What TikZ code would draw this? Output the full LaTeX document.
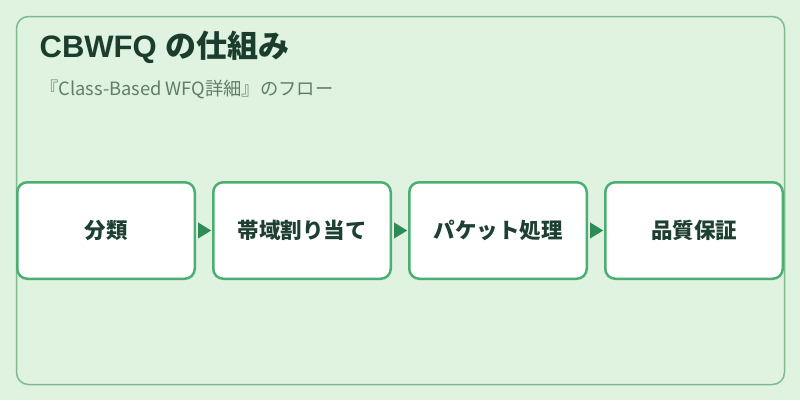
\documentclass[tikz,border=0pt]{standalone}
\usepackage{fontspec}
\setmainfont{Noto Sans CJK JP}
\newfontfamily\latinsans{Liberation Sans}
\usetikzlibrary{arrows.meta}
\definecolor{bgc}{HTML}{E0F2E0}
\definecolor{framec}{HTML}{7DBB91}
\definecolor{boxc}{HTML}{4CAF72}
\definecolor{arrc}{HTML}{2E8B57}
\definecolor{titlec}{HTML}{1B3D2E}
\definecolor{subc}{HTML}{5F7F6B}
\definecolor{textc}{HTML}{1E4032}
\tikzset{
  stepbox/.style={draw=boxc, line width=2.5pt, fill=white, rounded corners=10pt,
    minimum width=177.5pt, minimum height=96.5pt, inner sep=0pt,
    font=\fontsize{21.5}{26}\selectfont\bfseries, text=textc},
  flow/.style={draw=arrc, fill=arrc, line width=0.1pt, shorten <=2pt, shorten >=1pt,
    -{Triangle[length=13pt,width=16pt]}},
}
\begin{document}
\begin{tikzpicture}[x=1pt,y=-1pt]
\fill[bgc] (0,0) rectangle (800,400);
\useasboundingbox (0,0) rectangle (800,400);
\draw[framec, line width=1.5pt, rounded corners=12pt] (16.5,16.5) rectangle (784.5,384.5);
\node[anchor=base west, text=titlec, font=\fontsize{31}{37}\selectfont\bfseries, inner sep=0pt] (title) at (39.5,57.3) {{\latinsans\bfseries CBWFQ\hspace{9pt}}の仕組み};
\node[anchor=base west, text=subc, font=\fontsize{18.3}{22}\selectfont, inner sep=0pt] (sub) at (40,95) {『Class-Based WFQ詳細』のフロー};
\node[stepbox] (b1) at (106,230.5) {分類};
\node[stepbox] (b2) at (302,230.5) {帯域割り当て};
\node[stepbox] (b3) at (498,230.5) {パケット処理};
\node[stepbox] (b4) at (694,230.5) {品質保証};
\draw[flow] (b1.east) -- (b2.west);
\draw[flow] (b2.east) -- (b3.west);
\draw[flow] (b3.east) -- (b4.west);
\end{tikzpicture}
\end{document}
